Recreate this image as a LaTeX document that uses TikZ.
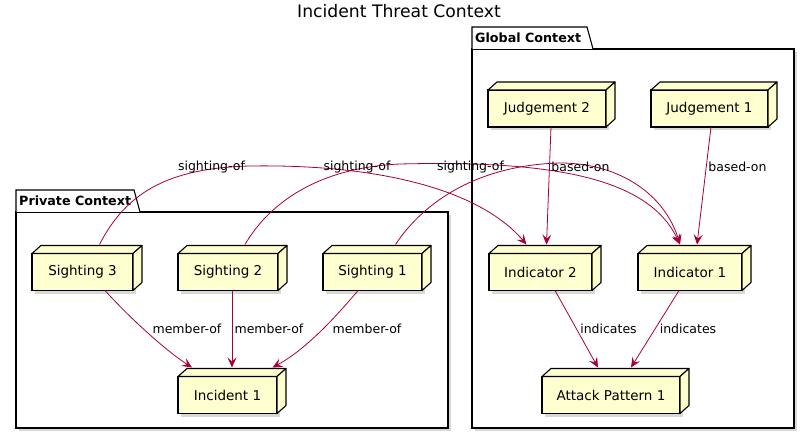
\documentclass[tikz,border=0pt]{standalone}
\usepackage{fontspec}
\setmainfont{DejaVu Sans}
\usetikzlibrary{arrows.meta,shadows}
\definecolor{nodefill}{HTML}{FEFECE}
\definecolor{relcol}{HTML}{A80036}
\tikzset{
  box/.style={draw,fill=nodefill,line width=1.1pt,minimum height=37,inner sep=0pt,outer sep=0pt,
    font=\fontsize{13.5}{16}\selectfont,drop shadow={shadow xshift=3pt,shadow yshift=-3pt,opacity=0.3}},
  face/.style={draw,fill=nodefill,line width=1.1pt,line join=round},
  lbl/.style={font=\fontsize{12.5}{15}\selectfont,inner sep=0pt},
  pkglbl/.style={font=\bfseries\fontsize{12.7}{15}\selectfont,inner sep=0pt,anchor=west},
  pkg/.style={draw,line width=1.1pt,fill=white},
  rel/.style={draw=relcol,line width=0.8pt,-{Stealth[length=10pt,width=9pt,inset=4pt]}}
}
\begin{document}
\begin{tikzpicture}[x=1pt,y=-1pt]
    \useasboundingbox (0,0) rectangle (810,435);
    \node[font=\fontsize{17.2}{20}\selectfont] (title) at (399,11) {Incident Threat Context};

    % packages
    \draw[pkg,drop shadow={shadow xshift=3pt,shadow yshift=-3pt,opacity=0.3}] (472,49) rectangle (794,428);
    \draw[pkg] (472,49) -- (472,27) -- (587,27) -- (593,49);
    \node[pkglbl] (glob) at (475,38) {Global Context};
    \draw[pkg,drop shadow={shadow xshift=3pt,shadow yshift=-3pt,opacity=0.3}] (16,212) rectangle (448,428);
    \draw[pkg] (16,212) -- (16,190) -- (134,190) -- (140,212);
    \node[pkglbl] (priv) at (19,201) {Private Context};

    % nodes
    \node[box,minimum width=118] (jdg2) at (547,108.5) {Judgement 2};
    \node[box,minimum width=117] (jdg1) at (709.5,108.5) {Judgement 1};
    \node[box,minimum width=101] (sgt3) at (82.5,272) {Sighting 3};
    \node[box,minimum width=100] (sgt2) at (228,272) {Sighting 2};
    \node[box,minimum width=99] (sgt1) at (372.5,272) {Sighting 1};
    \node[box,minimum width=103] (ind2) at (540.5,272) {Indicator 2};
    \node[box,minimum width=104] (ind1) at (690,272) {Indicator 1};
    \node[box,minimum width=99] (inc1) at (227.5,395) {Incident 1};
    \node[box,minimum width=138] (atk1) at (611,395) {Attack Pattern 1};

    % 3d faces
    \foreach \n in {jdg2,jdg1,sgt3,sgt2,sgt1,ind2,ind1,inc1,atk1}{
      \draw[face] (\n.north west) -- ++(9,-8) -- ([shift={(9,-8)}]\n.north east) -- (\n.north east) -- cycle;
      \draw[face] (\n.north east) -- ++(9,-8) -- ([shift={(9,-8)}]\n.south east) -- (\n.south east) -- cycle;
    }

    % relations
    \draw[rel] ([shift={(17,-9)}]sgt3.north) .. controls (125,195) and (165,168) .. (250,166)
      .. controls (380,164) and (480,190) .. ([shift={(-14,-9)}]ind2.north);
    \draw[rel] ([shift={(17,-9)}]sgt2.north) .. controls (265,210) and (310,168) .. (400,164)
      .. controls (560,160) and (650,180) .. ([shift={(-10,-9)}]ind1.north);
    \draw[rel] ([shift={(23,-9)}]sgt1.north) .. controls (425,200) and (480,165) .. (560,163)
      .. controls (620,163) and (665,195) .. ([shift={(-10,-9)}]ind1.north);
    \draw[rel] ([xshift=4]jdg2.south) -- ([shift={(6,-9)}]ind2.north);
    \draw[rel] ([xshift=1.5]jdg1.south) -- ([shift={(7,-9)}]ind1.north);
    \draw[rel] ([xshift=14.5]ind2.south) -- ([shift={(-13,-9)}]atk1.north);
    \draw[rel] ([xshift=-11]ind1.south) -- ([shift={(20,-9)}]atk1.north);
    \draw[rel] ([xshift=22.5]sgt3.south) .. controls (130,318) and (165,350) .. ([shift={(-35.5,-9)}]inc1.north);
    \draw[rel] ([xshift=4]sgt2.south) -- ([shift={(4.5,-9)}]inc1.north);
    \draw[rel] ([xshift=-14.5]sgt1.south) .. controls (335,318) and (305,350) .. ([shift={(45,-9)}]inc1.north);

    % labels
    \node[lbl] (ls3) at (211.5,167) {sighting-of};
    \node[lbl] (ls2) at (357,167) {sighting-of};
    \node[lbl] (ls1) at (470.5,167) {sighting-of};
    \node[lbl] (lj2) at (580.5,167) {based-on};
    \node[lbl] (lj1) at (737.5,167) {based-on};
    \node[lbl] (lm3) at (187,329) {member-of};
    \node[lbl] (lm2) at (269,329) {member-of};
    \node[lbl] (lm1) at (367,329) {member-of};
    \node[lbl] (li2) at (608.5,329) {indicates};
    \node[lbl] (li1) at (688,329) {indicates};
\end{tikzpicture}
\end{document}
